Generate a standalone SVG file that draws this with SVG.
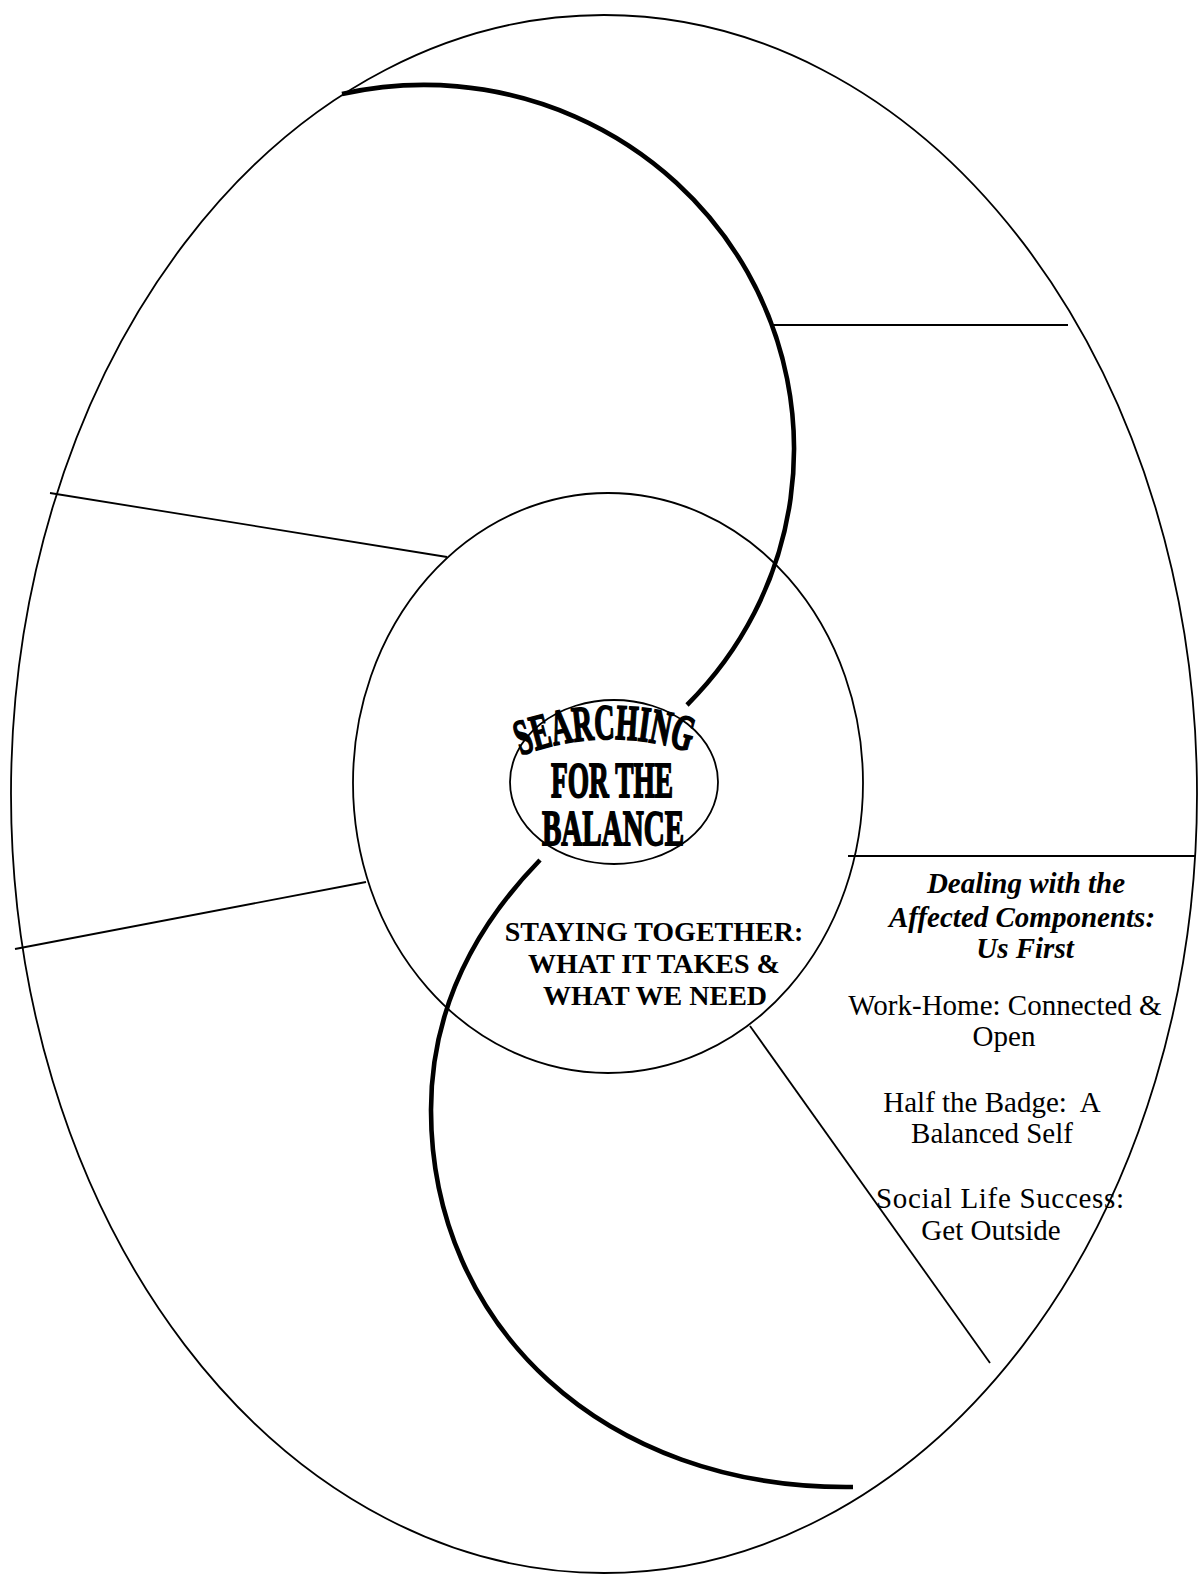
<svg xmlns="http://www.w3.org/2000/svg" width="1202" height="1577" viewBox="0 0 1202 1577">
<style>
.thin{fill:none;stroke:#000;stroke-width:1.8}
.thick{fill:none;stroke:#000;stroke-width:4.6;stroke-linecap:butt}
.ser{font-family:"Liberation Serif","Times New Roman",serif;fill:#000}
.mid{font-size:28px;font-weight:bold;text-anchor:middle}
.rt{font-size:29px;text-anchor:middle}
.rti{font-size:29px;font-weight:bold;font-style:italic;text-anchor:middle}
.core{font-size:50px;font-weight:bold;stroke:#000;stroke-width:1.8;text-anchor:middle}
</style>
<defs>
<path id="arcS" d="M514,758 Q605,722 696,754"/>
</defs>
<rect width="1202" height="1577" fill="#fff"/>
<g id="outer-ring">
<ellipse class="thin" cx="604" cy="794" rx="593" ry="779"/>
</g>
<g id="connectors">
<path class="thick" d="M342,94 A370,364 0 0 1 687,705"/>
<path class="thick" d="M540,860 C484,917.6 431,1000 431,1110 C431,1325 603,1490 853,1487"/>
<line class="thin" x1="772" y1="325" x2="1068" y2="325"/>
<line class="thin" x1="848" y1="856" x2="1195" y2="856"/>
<line class="thin" x1="50" y1="493" x2="447" y2="557"/>
<line class="thin" x1="15" y1="949" x2="366" y2="882"/>
<line class="thin" x1="750" y1="1026" x2="990" y2="1363"/>
</g>
<g id="middle-ring">
<ellipse class="thin" cx="608" cy="783" rx="255" ry="290"/>
<text class="ser mid" x="654" y="941">STAYING TOGETHER:</text>
<text class="ser mid" x="654" y="973">WHAT IT TAKES &amp;</text>
<text class="ser mid" x="655" y="1005">WHAT WE NEED</text>
</g>
<g id="core">
<ellipse class="thin" cx="614" cy="782" rx="104" ry="82" fill="#fff"/>
<text class="ser core"><textPath href="#arcS" startOffset="50%" textLength="172" lengthAdjust="spacingAndGlyphs">SEARCHING</textPath></text>
<text class="ser core" x="612" y="797" textLength="122" lengthAdjust="spacingAndGlyphs">FOR THE</text>
<text class="ser core" x="613" y="845" textLength="142" lengthAdjust="spacingAndGlyphs">BALANCE</text>
</g>
<g id="affected-components">
<text class="ser rti" x="1026" y="893">Dealing with the</text>
<text class="ser rti" x="1022" y="927">Affected Components:</text>
<text class="ser rti" x="1025" y="958">Us First</text>
<text class="ser rt" x="1005" y="1015">Work-Home: Connected &amp;</text>
<text class="ser rt" x="1004" y="1046">Open</text>
<text class="ser rt" x="992" y="1112" xml:space="preserve">Half the Badge:  A</text>
<text class="ser rt" x="992" y="1143">Balanced Self</text>
<text class="ser rt" x="1000" y="1208" textLength="248" lengthAdjust="spacing">Social Life Success:</text>
<text class="ser rt" x="991" y="1240">Get Outside</text>
</g>
</svg>
